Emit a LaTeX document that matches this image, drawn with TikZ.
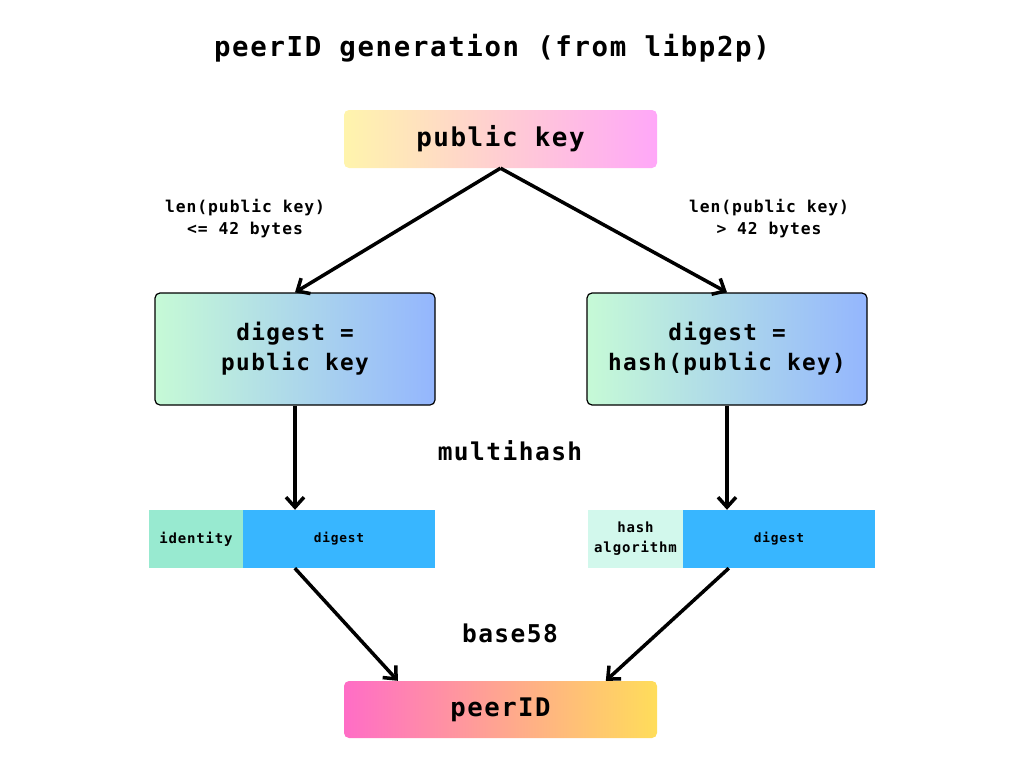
\documentclass[tikz,border=0pt]{standalone}
\usepackage{fontspec}
\setmainfont{DejaVu Sans Mono}[LetterSpace=6]
\usetikzlibrary{arrows.meta,calc}
\definecolor{pkL}{HTML}{FFF4AC}
\definecolor{pkR}{HTML}{FFA7F8}
\definecolor{dgL}{HTML}{C6FAD6}
\definecolor{dgR}{HTML}{94B6FE}
\definecolor{piL}{HTML}{FF6DC6}
\definecolor{piR}{HTML}{FFDD5A}
\definecolor{idc}{HTML}{98EAD0}
\definecolor{blu}{HTML}{38B6FF}
\definecolor{hac}{HTML}{D2F8EC}
\tikzset{
  fs/.style={font=\fontsize{#1}{#1}\selectfont\bfseries},
  gbox/.style={rounded corners=5pt, inner sep=0pt, align=center},
  bar/.style={inner sep=0pt, align=center, minimum height=58pt, font=\fontsize{12.8}{20}\selectfont\bfseries},
  conn/.style={line width=3.5pt, -{Straight Barb[length=10pt,width=18pt,line width=3.5pt]}},
  lbl/.style={inner sep=0pt, align=center, font=\fontsize{16.3}{22}\selectfont\bfseries}
}
\begin{document}
\begin{tikzpicture}[x=1pt,y=-1pt]
\useasboundingbox (0,0) rectangle (1024,768);
\node[fs=27.4, inner sep=0pt] (title) at (492,48) {peerID generation (from libp2p)};
\node[gbox, left color=pkL, right color=pkR, minimum width=313pt, minimum height=58pt, fs=25.9] (pk) at (500.5,139) {public key};
\node[gbox, draw=black, line width=1.2pt, left color=dgL, right color=dgR, minimum width=280pt, minimum height=112pt, font=\fontsize{22.7}{30}\selectfont\bfseries] (dL) at (295,349) {digest =\\public key};
\node[gbox, draw=black, line width=1.2pt, left color=dgL, right color=dgR, minimum width=280pt, minimum height=112pt, font=\fontsize{22.7}{30}\selectfont\bfseries] (dR) at (727,349) {digest =\\hash(public key)};
\node[bar, fill=idc, minimum width=94pt, font=\fontsize{14}{20}\selectfont\bfseries] (idL) at (196,539) {identity};
\node[bar, fill=blu, minimum width=192pt] (bL) at (339,539) {digest};
\node[bar, fill=hac, minimum width=95pt, font=\fontsize{14}{20}\selectfont\bfseries] (haR) at (635.5,539) {hash\\algorithm};
\node[bar, fill=blu, minimum width=192pt] (bR) at (779,539) {digest};
\node[gbox, left color=piL, right color=piR, minimum width=313pt, minimum height=57pt, fs=25.6] (pid) at (500.5,709.5) {peerID};
\node[lbl] (lenL) at (245,219) {len(public key)\\<= 42 bytes};
\node[lbl] (lenR) at (769,219) {len(public key)\\> 42 bytes};
\node[fs=24.5, inner sep=0pt] (mh) at (510,451) {multihash};
\node[fs=24.5, inner sep=0pt] (b58) at (510,633) {base58};
\coordinate (sL) at ($(bL.south west)+(52,0)$);
\coordinate (sR) at ($(bR.south west)+(46,0)$);
\coordinate (eL) at ($(pid.north west)+(54,0)$);
\coordinate (eR) at ($(pid.north west)+(262,0)$);
\draw[conn] (pk.south) -- (dL.north);
\draw[conn] (pk.south) -- (dR.north);
\draw[conn] (dL.south) -- (dL.south |- bL.north);
\draw[conn] (dR.south) -- (dR.south |- bR.north);
\draw[conn] (sL) -- (eL);
\draw[conn] (sR) -- (eR);
\end{tikzpicture}
\end{document}
